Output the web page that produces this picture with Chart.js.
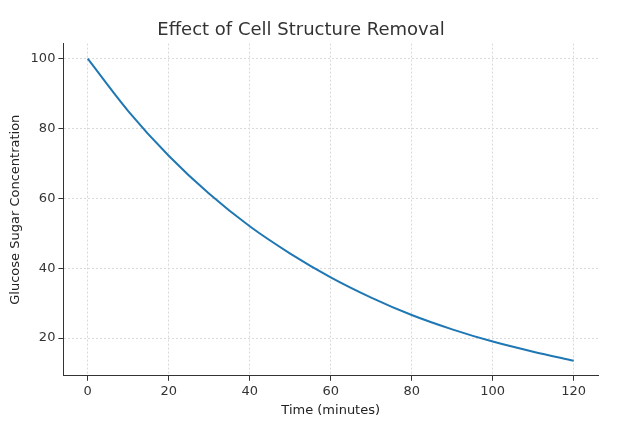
<!DOCTYPE html>
<html><head><script src="https://cdn.jsdelivr.net/npm/chart.js@4/dist/chart.umd.min.js"></script>
<style>body{margin:0;background:#fff}#w{width:628px;height:439px}</style></head>
<body><div id="w"><canvas id="c"></canvas></div>
<script>
const times=[0,10,20,30,40,50,60,70,80,90,100,110,120];
const glucose=[100,85,72.2,61.3,52,44.2,37.4,31.6,26.6,22.5,19,16.1,13.5];
const xTicks=[0,20,40,60,80,100,120];
const yTicks=[20,40,60,80,100];
const pts=times.map((t,i)=>({x:t,y:glucose[i]}));
const grid={color:'#d9d9d9',drawTicks:true,tickColor:'#333',tickLength:5};
const border={color:'#333',width:1,dash:[2,2]};
new Chart(document.getElementById('c'),{type:'line',
data:{datasets:[{data:pts,borderColor:'#1f77b4',borderWidth:2,pointRadius:0,cubicInterpolationMode:'monotone',fill:false}]},
options:{responsive:true,maintainAspectRatio:false,animation:false,
layout:{padding:{left:4,right:30,top:6,bottom:17}},
plugins:{legend:{display:false},title:{display:true,text:'Effect of Cell Structure Removal',color:'#333',font:{family:'DejaVu Sans',size:18,weight:'normal'},padding:{top:14,bottom:2}}},
scales:{
x:{type:'linear',min:-6,max:126,afterBuildTicks:a=>{a.ticks=xTicks.map(v=>({value:v}))},
grid:grid,border:border,ticks:{color:'#333',font:{family:'DejaVu Sans',size:13},maxRotation:0},
title:{display:true,text:'Time (minutes)',color:'#222',font:{family:'DejaVu Sans',size:13},padding:{top:0}}},
y:{min:9.2,max:104.3,afterBuildTicks:a=>{a.ticks=yTicks.map(v=>({value:v}))},
grid:grid,border:border,ticks:{color:'#333',font:{family:'DejaVu Sans',size:13}},
title:{display:true,text:'Glucose Sugar Concentration',color:'#222',font:{family:'DejaVu Sans',size:13},padding:{bottom:4}}}
}}});
</script></body></html>
